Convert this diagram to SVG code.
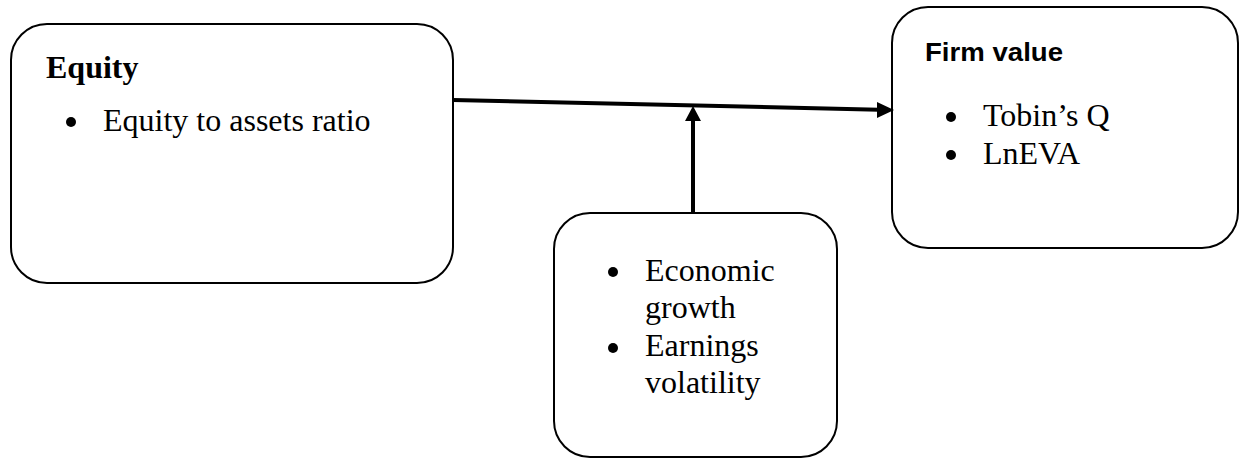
<svg xmlns="http://www.w3.org/2000/svg" width="1241" height="458" viewBox="0 0 1241 458">
<style>
.box{fill:#fff;stroke:#000;stroke-width:2}
.t{font-family:"Liberation Serif","Times New Roman",serif;font-size:32px;fill:#000}
.tb{font-family:"Liberation Serif","Times New Roman",serif;font-size:32px;font-weight:bold;fill:#000}
.s{font-family:"Liberation Sans",Arial,sans-serif;font-size:25px;font-weight:bold;fill:#000}
.dot{fill:#000}
.ln{stroke:#000;stroke-width:4;fill:none}
</style>
<rect width="1241" height="458" fill="#fff"/>
<g id="equity">
<rect class="box" x="11" y="24" width="442" height="259" rx="36" ry="36"/>
<text class="tb" x="46" y="78">Equity</text>
<circle class="dot" cx="71" cy="122" r="5"/>
<text class="t" x="103" y="131">Equity to assets ratio</text>
</g>
<g id="firmvalue">
<rect class="box" x="892" y="7" width="346" height="241" rx="36" ry="36"/>
<text class="s" x="925" y="61" textLength="138" lengthAdjust="spacingAndGlyphs">Firm value</text>
<circle class="dot" cx="951" cy="117" r="5"/>
<text class="t" x="983" y="126">Tobin’s Q</text>
<circle class="dot" cx="951" cy="155" r="5"/>
<text class="t" x="983" y="164">LnEVA</text>
</g>
<g id="moderators">
<rect class="box" x="554" y="213" width="283" height="244" rx="36" ry="36"/>
<circle class="dot" cx="613" cy="272" r="5"/>
<text class="t" x="645" y="281">Economic</text>
<text class="t" x="645" y="318">growth</text>
<circle class="dot" cx="613" cy="348" r="5"/>
<text class="t" x="645" y="356">Earnings</text>
<text class="t" x="645" y="393">volatility</text>
</g>
<g id="connectors">
<line class="ln" x1="453" y1="100" x2="879" y2="109.7"/>
<polygon class="dot" points="894,110 877,102 877,118"/>
<line class="ln" x1="693" y1="213" x2="693" y2="119"/>
<polygon class="dot" points="693,106 685,121 701,121"/>
</g>
</svg>
